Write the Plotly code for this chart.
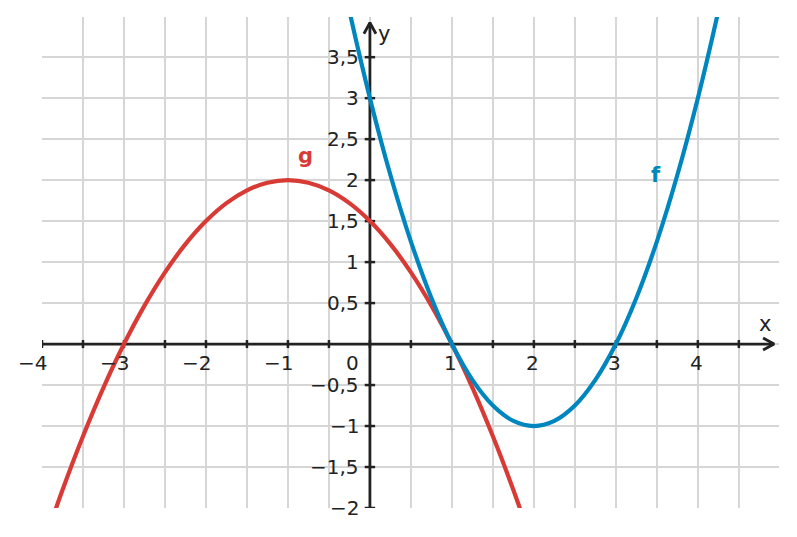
import plotly.graph_objects as go

# Values
f_x = [-0.5, -0.25, 0, 0.25, 0.5, 0.75, 1, 1.25, 1.5, 1.75, 2, 2.25, 2.5, 2.75, 3, 3.25, 3.5, 3.75, 4, 4.25, 4.5]
f_y = [5.25, 4.0625, 3, 2.0625, 1.25, 0.5625, 0, -0.4375, -0.75, -0.9375, -1, -0.9375, -0.75, -0.4375, 0, 0.5625, 1.25, 2.0625, 3, 4.0625, 5.25]

g_x = [-4, -3.75, -3.5, -3.25, -3, -2.75, -2.5, -2.25, -2, -1.75, -1.5, -1.25, -1, -0.75, -0.5, -0.25, 0, 0.25, 0.5, 0.75, 1, 1.25, 1.5, 1.75, 2]
g_y = [-2.5, -1.78125, -1.125, -0.53125, 0, 0.46875, 0.875, 1.21875, 1.5, 1.71875, 1.875, 1.96875, 2, 1.96875, 1.875, 1.71875, 1.5, 1.21875, 0.875, 0.46875, 0, -0.53125, -1.125, -1.78125, -2.5]

x_tick_vals = [-4, -3, -2, -1, 1, 2, 3, 4]
x_tick_text = ["−4", "−3", "−2", "−1", "1", "2", "3", "4"]
y_tick_vals = [-2, -1.5, -1, -0.5, 0.5, 1, 1.5, 2, 2.5, 3, 3.5]
y_tick_text = ["−2", "−1,5", "−1", "−0,5", "0,5", "1", "1,5", "2", "2,5", "3", "3,5"]

RED = "#d83b36"
BLUE = "#0086bf"
AX = "#222222"
FONT = "DejaVu Sans"
FS = 20

X_MIN, X_MAX = -4, 4.99
Y_MIN, Y_MAX = -2, 3.99
PX_X = 81.8  # px per unit (approx) for decoration sizes
PX_Y = 81.8

fig = go.Figure()

# axes lines
x_tip = 4.93
y_tip = 3.92
AW = 2.8
fig.add_trace(go.Scatter(x=[-4, x_tip], y=[0, 0], mode="lines",
                         line=dict(color=AX, width=AW), hoverinfo="skip", showlegend=False))
fig.add_trace(go.Scatter(x=[0, 0], y=[-2, y_tip], mode="lines",
                         line=dict(color=AX, width=AW), hoverinfo="skip", showlegend=False))
# arrowheads (chevrons)
ab, aw = 11 / PX_X, 6 / PX_Y
fig.add_trace(go.Scatter(x=[x_tip - ab, x_tip, x_tip - ab], y=[aw, 0, -aw], mode="lines",
                         line=dict(color=AX, width=AW), hoverinfo="skip", showlegend=False))
fig.add_trace(go.Scatter(x=[-aw, 0, aw], y=[y_tip - ab, y_tip, y_tip - ab], mode="lines",
                         line=dict(color=AX, width=AW), hoverinfo="skip", showlegend=False))

# tick marks
tl = 4 / PX_Y
tx, ty = [], []
k = -8
while k <= 9:
    v = k * 0.5
    tx += [v, v, None]
    ty += [-tl, tl, None]
    k += 1
fig.add_trace(go.Scatter(x=tx, y=ty, mode="lines", line=dict(color=AX, width=2.5),
                         hoverinfo="skip", showlegend=False))
tx, ty = [], []
k = -4
while k <= 7:
    v = k * 0.5
    if k != 0:
        tx += [-tl * 1.3, tl * 1.3, None]
        ty += [v, v, None]
    k += 1
fig.add_trace(go.Scatter(x=tx, y=ty, mode="lines", line=dict(color=AX, width=2.5),
                         hoverinfo="skip", showlegend=False))

# curves
fig.add_trace(go.Scatter(x=g_x, y=g_y, mode="lines", line=dict(color=RED, width=4.2, shape="spline"),
                         name="g", showlegend=False))
fig.add_trace(go.Scatter(x=f_x, y=f_y, mode="lines", line=dict(color=BLUE, width=4.2, shape="spline"),
                         name="f", showlegend=False))

ann = []
for v, t in zip(x_tick_vals, x_tick_text):
    ann.append(dict(x=v, y=0, xref="x", yref="y", text=t, showarrow=False,
                    xanchor="right", yanchor="middle", xshift=7.2, yshift=-18.5,
                    font=dict(family=FONT, size=FS, color=AX)))
for v, t in zip(y_tick_vals, y_tick_text):
    ann.append(dict(x=0, y=v, xref="x", yref="y", text=t, showarrow=False,
                    xanchor="right", yanchor="middle", xshift=-9,
                    font=dict(family=FONT, size=FS, color=AX)))
ann.append(dict(x=0, y=0, xref="x", yref="y", text="0", showarrow=False,
                xanchor="right", yanchor="middle", xshift=-9, yshift=-18.5,
                font=dict(family=FONT, size=FS, color=AX)))
ann.append(dict(x=4.82, y=0.25, xref="x", yref="y", text="x", showarrow=False,
                xanchor="center", yanchor="middle", font=dict(family=FONT, size=21, color=AX)))
ann.append(dict(x=0.17, y=3.78, xref="x", yref="y", text="y", showarrow=False,
                xanchor="center", yanchor="middle", font=dict(family=FONT, size=21, color=AX)))
ann.append(dict(x=-0.78, y=2.30, xref="x", yref="y", text="<b>g</b>", showarrow=False,
                xanchor="center", yanchor="middle", font=dict(family=FONT, size=21, color=RED)))
ann.append(dict(x=3.49, y=2.06, xref="x", yref="y", text="<b>f</b>", showarrow=False,
                xanchor="center", yanchor="middle", font=dict(family=FONT, size=21, color=BLUE)))

# page body has an 8px default margin: compensate so the plot area lands at
# x 42..779, y 17..508 in the window
fig.update_layout(
    width=797, height=537,
    margin=dict(l=34, r=26, t=9, b=37),
    paper_bgcolor="white", plot_bgcolor="white",
    xaxis=dict(range=[X_MIN, X_MAX], dtick=0.5, tick0=0, showgrid=True, gridcolor="#d6d6d6",
               gridwidth=2, zeroline=False, showticklabels=False, ticks="", showline=False,
               fixedrange=True),
    yaxis=dict(range=[Y_MIN, Y_MAX], dtick=0.5, tick0=0, showgrid=True, gridcolor="#d6d6d6",
               gridwidth=2, zeroline=False, showticklabels=False, ticks="", showline=False,
               fixedrange=True),
    annotations=ann,
    font=dict(family=FONT),
)

fig.write_html("out.html")
